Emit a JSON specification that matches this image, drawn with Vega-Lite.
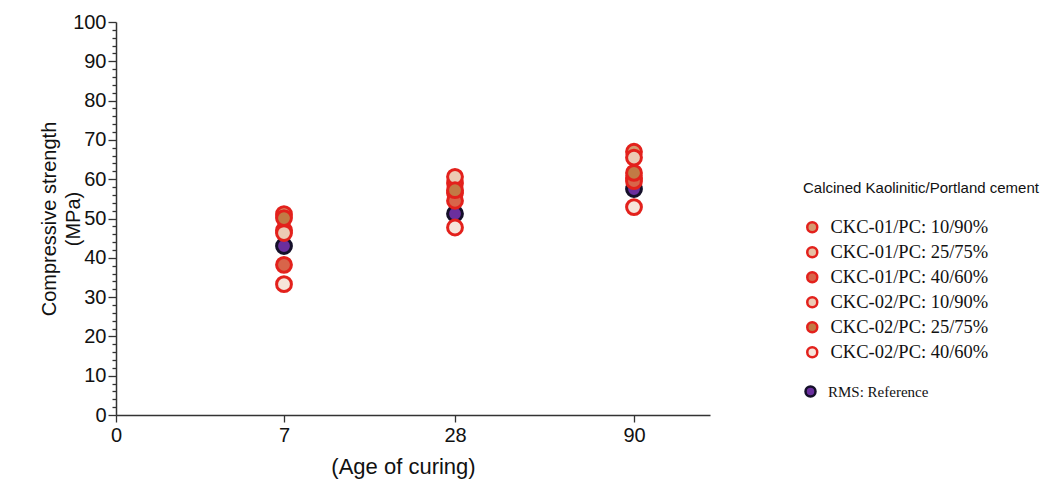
{
  "$schema": "https://vega.github.io/schema/vega-lite/v6.json",
  "autosize": "none",
  "width": 594,
  "height": 393,
  "padding": {"left": 116, "top": 22, "right": 333, "bottom": 69},
  "background": "white",
  "config": {
    "view": {"stroke": null},
    "axis": {"grid": false, "labelFont": "Liberation Sans", "titleFont": "Liberation Sans", "labelColor": "#111", "titleColor": "#111", "titleFontWeight": "normal", "domainColor": "#333", "tickColor": "#333", "domainWidth": 1.5, "tickWidth": 1.3},
    "legend": {"padding": 0, "labelFont": "Liberation Serif", "labelFontSize": 18.5, "labelColor": "#111", "titleFont": "Liberation Sans", "titleFontSize": 15, "titleFontWeight": "normal", "titleColor": "#111", "titleLimit": 400, "labelLimit": 300}
  },
  "data": {"values": [
    {"age": 7, "strength": 51.1, "series": "CKC-01/PC: 10/90%"},
    {"age": 7, "strength": 47.0, "series": "CKC-01/PC: 25/75%"},
    {"age": 7, "strength": 38.2, "series": "CKC-01/PC: 40/60%"},
    {"age": 7, "strength": 46.3, "series": "CKC-02/PC: 10/90%"},
    {"age": 7, "strength": 50.1, "series": "CKC-02/PC: 25/75%"},
    {"age": 7, "strength": 33.3, "series": "CKC-02/PC: 40/60%"},
    {"age": 7, "strength": 43.0, "series": "RMS: Reference"},
    {"age": 28, "strength": 59.0, "series": "CKC-01/PC: 10/90%"},
    {"age": 28, "strength": 56.5, "series": "CKC-01/PC: 25/75%"},
    {"age": 28, "strength": 54.5, "series": "CKC-01/PC: 40/60%"},
    {"age": 28, "strength": 60.6, "series": "CKC-02/PC: 10/90%"},
    {"age": 28, "strength": 57.2, "series": "CKC-02/PC: 25/75%"},
    {"age": 28, "strength": 47.7, "series": "CKC-02/PC: 40/60%"},
    {"age": 28, "strength": 51.2, "series": "RMS: Reference"},
    {"age": 90, "strength": 67.0, "series": "CKC-01/PC: 10/90%"},
    {"age": 90, "strength": 60.3, "series": "CKC-01/PC: 25/75%"},
    {"age": 90, "strength": 59.5, "series": "CKC-01/PC: 40/60%"},
    {"age": 90, "strength": 65.5, "series": "CKC-02/PC: 10/90%"},
    {"age": 90, "strength": 61.6, "series": "CKC-02/PC: 25/75%"},
    {"age": 90, "strength": 52.9, "series": "CKC-02/PC: 40/60%"},
    {"age": 90, "strength": 57.5, "series": "RMS: Reference"}
  ]},
  "encoding": {
    "x": {"field": "age", "type": "quantitative",
      "scale": {"domain": [0, 7, 28, 90, 111], "range": [0, 168, 339, 518, 594], "nice": false, "zero": false},
      "axis": {"values": [0, 7, 28, 90], "title": "(Age of curing)", "titleFontSize": 22, "titleX": 287, "titleY": 51, "titleBaseline": "middle", "labelFontSize": 20, "tickSize": 7, "labelPadding": 3, "labelFlush": false}},
    "y": {"field": "strength", "type": "quantitative",
      "scale": {"domain": [0, 100], "nice": false},
      "axis": {"values": [0,2,4,6,8,10,12,14,16,18,20,22,24,26,28,30,32,34,36,38,40,42,44,46,48,50,52,54,56,58,60,62,64,66,68,70,72,74,76,78,80,82,84,86,88,90,92,94,96,98,100],
        "labelExpr": "datum.value % 10 === 0 ? datum.label : ''", "labelOverlap": false,
        "tickSize": {"condition": {"test": "datum.value % 10 === 0", "value": 8}, "value": 4},
        "title": ["Compressive strength", "(MPa)"], "titleFontSize": 20, "titleX": -67, "titleY": 196.5, "titleAngle": 270, "titleAlign": "center", "titleBaseline": "middle", "titleLineHeight": 24,
        "labelFontSize": 20, "labelPadding": 2, "labelFlush": false}}
  },
  "layer": [
    {
      "transform": [{"filter": "datum.series === 'RMS: Reference'"}],
      "mark": {"type": "point", "shape": "circle", "filled": true, "size": 220, "stroke": "#15102a", "strokeWidth": 3, "opacity": 1},
      "encoding": {
        "fill": {"field": "series", "type": "nominal",
          "scale": {"domain": ["RMS: Reference"], "range": ["#6a2f9e"]},
          "legend": {"title": null, "orient": "none", "legendX": 687, "legendY": 362, "symbolSize": 100, "symbolStrokeColor": "#15102a", "symbolStrokeWidth": 2.5, "labelFontSize": 15, "labelOffset": 10}}
      }
    },
    {
      "transform": [{"filter": "datum.series !== 'RMS: Reference'"}],
      "mark": {"type": "point", "shape": "circle", "filled": true, "size": 220, "stroke": "#e3211c", "strokeWidth": 3, "opacity": 1},
      "encoding": {
        "fill": {"field": "series", "type": "nominal",
          "scale": {"domain": ["CKC-01/PC: 10/90%", "CKC-01/PC: 25/75%", "CKC-01/PC: 40/60%", "CKC-02/PC: 10/90%", "CKC-02/PC: 25/75%", "CKC-02/PC: 40/60%"],
                    "range": ["#d59a70", "#e6c0a4", "#d8654a", "#eccab4", "#c27a45", "#f6e4da"]},
          "legend": {"title": "Calcined Kaolinitic/Portland cement", "orient": "none", "legendX": 687, "legendY": 159, "titlePadding": 22, "rowPadding": 4, "symbolSize": 100, "symbolStrokeColor": "#e3211c", "symbolStrokeWidth": 2.5, "labelOffset": 9}}
      }
    }
  ],
  "resolve": {"scale": {"fill": "independent"}, "legend": {"fill": "independent"}}
}
